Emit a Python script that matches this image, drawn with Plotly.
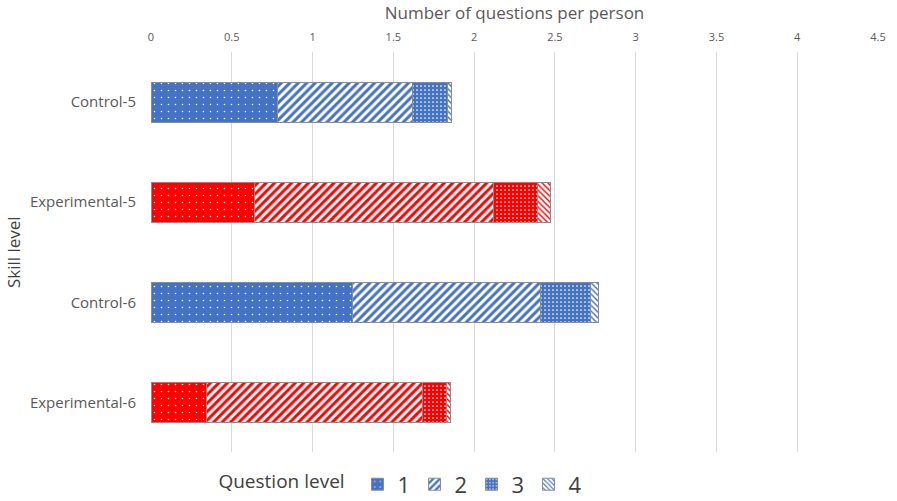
import plotly.graph_objects as go

categories = ["Control-5", "Experimental-5", "Control-6", "Experimental-6"]
levels = ["1", "2", "3", "4"]
# values per question level, per category
level1 = [0.78, 0.643, 1.245, 0.341]
level2 = [0.84, 1.474, 1.163, 1.341]
level3 = [0.215, 0.275, 0.315, 0.149]
level4 = [0.025, 0.078, 0.047, 0.020]
series = [level1, level2, level3, level4]

blue = "#4472C4"
red = "#FF0000"
border = "#8C8C8C"

def pattern(level, color):
    if level == 0:
        return dict(shape=".", bgcolor=color, fgcolor="white", size=7, solidity=0.04, fillmode="replace")
    if level == 1:
        return dict(shape="/", bgcolor="white", fgcolor=color, size=6, solidity=0.5, fillmode="replace")
    if level == 2:
        return dict(shape=".", bgcolor=color, fgcolor="white", size=4, solidity=0.15, fillmode="replace")
    return dict(shape="\\", bgcolor="white", fgcolor=color, size=4, solidity=0.35, fillmode="replace")

fig = go.Figure()
for i, vals in enumerate(series):
    fig.add_trace(go.Bar(
        y=[categories[0], categories[2]], x=[vals[0], vals[2]], orientation="h",
        name=levels[i], legendgroup=levels[i], showlegend=True,
        marker=dict(color="white", pattern=pattern(i, blue), line=dict(color=border, width=1)),
        width=0.4,
    ))
    fig.add_trace(go.Bar(
        y=[categories[1], categories[3]], x=[vals[1], vals[3]], orientation="h",
        name=levels[i], legendgroup=levels[i], showlegend=False,
        marker=dict(color="white", pattern=pattern(i, red), line=dict(color=border, width=1)),
        width=0.4,
    ))

fig.update_layout(
    width=897, height=501,
    barmode="stack",
    plot_bgcolor="white", paper_bgcolor="white",
    margin=dict(l=151, r=11, t=52, b=48),
    font=dict(family="Open Sans, sans-serif", color="#595959"),
    xaxis=dict(
        side="top", range=[0, 4.5], dtick=0.5, showgrid=True, gridcolor="#D9D9D9", gridwidth=1,
        zeroline=False, showline=False, ticks="", ticklabelstandoff=8,
        tickfont=dict(size=11, color="#595959"),
        title=dict(text="Number of questions per person", font=dict(size=17, color="#595959"), standoff=4),
    ),
    yaxis=dict(
        categoryorder="array", categoryarray=categories, autorange="reversed",
        showgrid=False, zeroline=False, showline=False, ticks="", ticklabelstandoff=14,
        tickfont=dict(size=15, color="#595959"),
        title=dict(text="Skill level", font=dict(size=17, color="#404040"), standoff=4),
    ),
    legend=dict(
        orientation="h", x=0.09, xanchor="left", y=0.075, yref="container", yanchor="top",
        title=dict(text="Question level ", font=dict(size=19, color="#404040")),
        font=dict(size=22, color="#404040"),
        itemwidth=30, entrywidth=12, traceorder="normal",
    ),
)

fig.write_html("out.html")
